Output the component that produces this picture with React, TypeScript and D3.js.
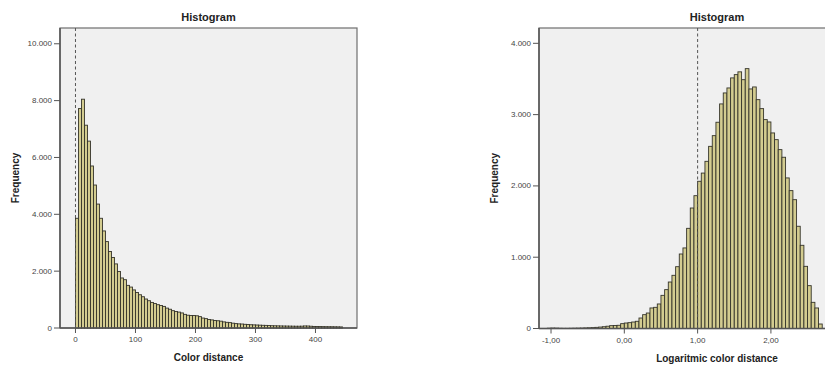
import * as d3 from "d3";
import React from "react";

// left: color distance, bins of 5 starting at 0
const colorBinStart = 0;
const colorBinWidth = 5;
const colorCounts = [
  3860, 7720, 8050, 7135, 6575, 5700, 5030, 4360, 3860, 3415,
  3040, 2690, 2480, 2255, 1990, 1760, 1700, 1500, 1440, 1340,
  1250, 1170, 1100, 1020, 960, 900, 860, 820, 790, 760,
  700, 660, 610, 580, 560, 530, 480, 450, 440, 440,
  430, 400, 350, 330, 300, 285, 265, 255, 240, 215,
  200, 190, 170, 155, 145, 140, 130, 125, 115, 110,
  105, 100, 95, 92, 88, 80, 78, 75, 72, 70,
  68, 66, 64, 62, 62, 64, 72, 70, 62, 55,
  52, 50, 48, 46, 45, 44, 42, 40, 38,
];
const colorXTicks = [0, 100, 200, 300, 400];
const colorYTicks = [0, 2000, 4000, 6000, 8000, 10000];

// right: log color distance, bins of 0.05 starting at -1.05
const logBinStart = -1.05;
const logBinWidth = 0.05;
const logCounts = [
  4, 6, 5, 3, 2, 2, 3, 4, 5, 6,
  8, 10, 12, 16, 20, 25, 32, 40, 42, 45,
  68, 77, 82, 91, 101, 147, 194, 217, 288, 297,
  344, 465, 545, 652, 746, 867, 1045, 1130, 1405, 1690,
  1863, 2065, 2180, 2345, 2555, 2705, 2893, 3150, 3304, 3374,
  3515, 3561, 3600, 3490, 3645, 3360, 3388, 3210, 3084, 2930,
  2897, 2743, 2649, 2509, 2402, 2112, 1934, 1807, 1434, 1167,
  872, 601, 367, 288, 63,
];
const logXTicks = [-1, 0, 1, 2];
const logYTicks = [0, 1000, 2000, 3000, 4000];

const locale = d3.formatLocale({
  decimal: ",",
  thousands: ".",
  grouping: [3],
  currency: ["", ""],
  minus: "-",
});
const fmtInt = locale.format(",d");
const fmt2 = locale.format(".2f");

const FONT = "Arial, 'Liberation Sans', sans-serif";

interface HistProps {
  left: number;
  top: number;
  width: number;
  height: number;
  xDomain: [number, number];
  yMax: number;
  binStart: number;
  binWidth: number;
  counts: number[];
  xTicks: number[];
  yTicks: number[];
  xFormat: (v: number) => string;
  refLine: number;
  xLabel: string;
}

const Histogram: React.FC<HistProps> = (p) => {
  const x = d3.scaleLinear().domain(p.xDomain).range([0, p.width]);
  const y = d3.scaleLinear().domain([0, p.yMax]).range([p.height, 0]);
  const cx = p.width / 2;

  return (
    <g transform={`translate(${p.left},${p.top})`} fontFamily={FONT}>
      <text x={cx} y={-7} textAnchor="middle" fontSize={11} fontWeight="bold" fill="#222">
        Histogram
      </text>
      <rect x={0} y={0} width={p.width} height={p.height} fill="#f0f0f0" stroke="#6e6e6e" strokeWidth={1.2} />
      {p.counts.map((c, i) => {
        const x0 = p.binStart + i * p.binWidth;
        return (
          <rect
            key={i}
            x={x(x0)}
            y={y(c)}
            width={x(x0 + p.binWidth) - x(x0)}
            height={p.height - y(c)}
            fill="#d3cc90"
            stroke="#35342a"
            strokeWidth={0.9}
          />
        );
      })}
      <line
        x1={x(p.refLine)}
        x2={x(p.refLine)}
        y1={0}
        y2={p.height}
        stroke="#555"
        strokeWidth={1}
        strokeDasharray="3,2.5"
      />
      <line x1={0} x2={0} y1={0} y2={p.height} stroke="#555" strokeWidth={1.5} />
      <line x1={0} x2={p.width} y1={p.height} y2={p.height} stroke="#555" strokeWidth={1.5} />
      {p.yTicks.map((t) => (
        <g key={t} transform={`translate(0,${y(t)})`}>
          <line x1={-6} x2={0} stroke="#555" strokeWidth={1} />
          <text x={-8} dy="0.32em" textAnchor="end" fontSize={8} fill="#444">
            {fmtInt(t)}
          </text>
        </g>
      ))}
      {p.xTicks.map((t) => (
        <g key={t} transform={`translate(${x(t)},${p.height})`}>
          <line y1={0} y2={5} stroke="#555" strokeWidth={1} />
          <text y={14} textAnchor="middle" fontSize={8} fill="#444">
            {p.xFormat(t)}
          </text>
        </g>
      ))}
      <text x={cx} y={p.height + 33} textAnchor="middle" fontSize={10} fontWeight="bold" fill="#222">
        {p.xLabel}
      </text>
      <text
        transform={`translate(${-41},${p.height / 2}) rotate(-90)`}
        textAnchor="middle"
        fontSize={10}
        fontWeight="bold"
        fill="#222"
      >
        Frequency
      </text>
    </g>
  );
};

export default function App() {
  return (
    <svg
      width={825}
      height={365}
      style={{ position: "absolute", left: 0, top: 0, background: "#fff" }}
    >
      <Histogram
        left={60}
        top={28}
        width={297}
        height={300}
        xDomain={[-25.8, 469.2]}
        yMax={10555}
        binStart={colorBinStart}
        binWidth={colorBinWidth}
        counts={colorCounts}
        xTicks={colorXTicks}
        yTicks={colorYTicks}
        xFormat={(v) => fmtInt(v)}
        refLine={0}
        xLabel="Color distance"
      />
      <Histogram
        left={539}
        top={28}
        width={356}
        height={300.5}
        xDomain={[-1.164, 3.693]}
        yMax={4215}
        binStart={logBinStart}
        binWidth={logBinWidth}
        counts={logCounts}
        xTicks={logXTicks}
        yTicks={logYTicks}
        xFormat={(v) => fmt2(v)}
        refLine={1}
        xLabel="Logaritmic color distance"
      />
    </svg>
  );
}
